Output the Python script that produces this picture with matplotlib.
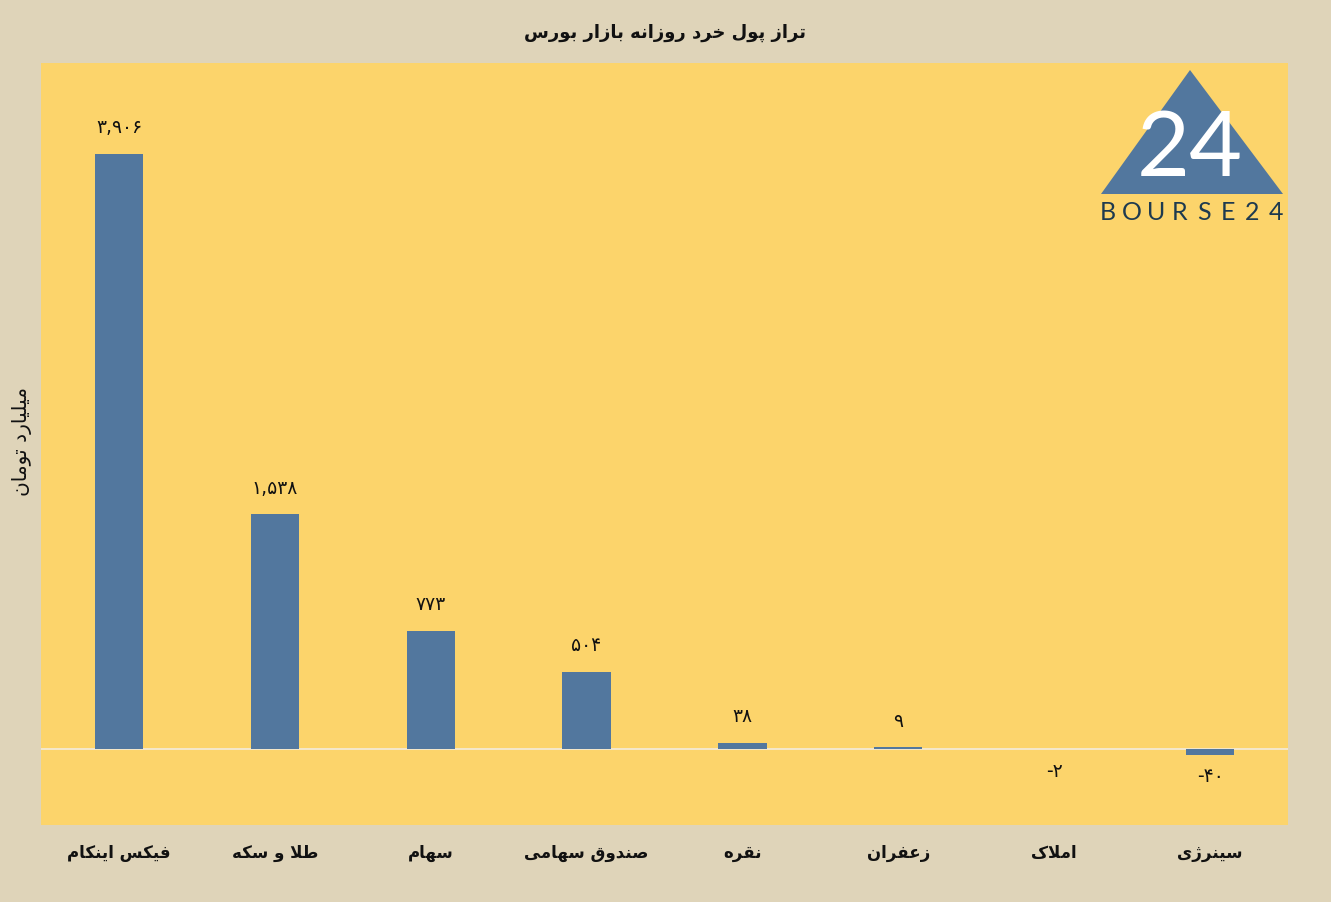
import unicodedata
import matplotlib
matplotlib.use("Agg")
import matplotlib.pyplot as plt
from matplotlib.patches import Polygon

# ---------------- data ----------------
title = "تراز پول خرد روزانه بازار بورس"
y_label = "میلیارد تومان"
categories = ["فیکس اینکام", "طلا و سکه", "سهام", "صندوق سهامی",
              "نقره", "زعفران", "املاک", "سینرژی"]
values = [3906, 1538, 773, 504, 38, 9, -2, -40]

# ---------------- simple Persian shaping ----------------
def _form(ch, kind):
    try:
        return unicodedata.lookup(unicodedata.name(ch) + " " + kind + " FORM")
    except (KeyError, ValueError):
        return None

def _can_left(ch):
    return _form(ch, "INITIAL") is not None

def _can_right(ch):
    return _form(ch, "FINAL") is not None

def shape(text):
    chars = list(text)
    tokens = []
    i = 0
    while i < len(chars):
        c = chars[i]
        if c == "\u0644" and i + 1 < len(chars) and chars[i + 1] in "\u0627\u0622":
            tokens.append(("LA", chars[i + 1]))
            i += 2
        else:
            tokens.append(("C", c))
            i += 1
    res = []
    for k, (t, c) in enumerate(tokens):
        prev = tokens[k - 1] if k > 0 else None
        nxt = tokens[k + 1] if k + 1 < len(tokens) else None
        prev_joins = prev is not None and prev[0] == "C" and _can_left(prev[1])
        if t == "LA":
            base = {"\u0627": "ARABIC LIGATURE LAM WITH ALEF",
                    "\u0622": "ARABIC LIGATURE LAM WITH ALEF WITH MADDA ABOVE"}[c]
            res.append(unicodedata.lookup(base + (" FINAL FORM" if prev_joins else " ISOLATED FORM")))
            continue
        if _form(c, "ISOLATED") is None:
            res.append(c)
            continue
        rj = prev_joins and _can_right(c)
        nj = nxt is not None and _can_left(c) and (nxt[0] == "LA" or _can_right(nxt[1]))
        kind = "MEDIAL" if (rj and nj) else "FINAL" if rj else "INITIAL" if nj else "ISOLATED"
        res.append(_form(c, kind) or c)
    return "".join(reversed(res))

def fa_num(v):
    s = f"{v:,}"
    return s.translate(str.maketrans("0123456789", "۰۱۲۳۴۵۶۷۸۹"))

# ---------------- style ----------------
BG = "#DFD4B9"
PLOT_BG = "#FCD46B"
BAR = "#52779E"
FONT = ["DejaVu Sans"]

plt.rcParams["font.family"] = FONT

W, H = 1331, 902
fig = plt.figure(figsize=(W / 100, H / 100), dpi=100, facecolor=BG)
ax = fig.add_axes([41 / W, 1 - 825 / H, (1288 - 41) / W, (825 - 63) / H])
ax.set_facecolor(PLOT_BG)

x = list(range(len(categories)))
ax.bar(x, values, width=0.31, color=BAR, zorder=3)
ax.axhline(0, color="#F3EBDD", lw=1.2, zorder=2)

ax.set_xlim(-0.5, len(categories) - 0.5)
ax.set_ylim(-500, 4500)
ax.set_yticks([])
ax.set_xticks(x)
ax.set_xticklabels([shape(c) for c in categories], fontsize=12, fontweight="bold",
                   color="#111111")
ax.tick_params(axis="x", length=0, pad=14)
for s in ax.spines.values():
    s.set_visible(False)

for xi, v in zip(x, values):
    if v >= 0:
        ax.annotate(fa_num(v), (xi, v), xytext=(0, 12), textcoords="offset points",
                    ha="center", va="bottom", fontsize=13.5, color="#111111")
    else:
        ax.annotate(fa_num(v), (xi, v), xytext=(0, -9), textcoords="offset points",
                    ha="center", va="top", fontsize=13.5, color="#111111")

fig.text(0.5, 1 - 33 / H, shape(title), ha="center", va="center",
         fontsize=13, fontweight="bold", color="#111111")
fig.text(22 / W, 1 - 441 / H, shape(y_label), ha="center", va="center",
         rotation=90, fontsize=14.5, color="#111111")

# ---------------- logo (decoration) ----------------
tri = Polygon([(1101 / W, 1 - 194 / H), (1190 / W, 1 - 70 / H), (1283 / W, 1 - 194 / H)],
              closed=True, transform=fig.transFigure, facecolor=BAR, edgecolor="none",
              zorder=5)
fig.add_artist(tri)
fig.text(1190 / W, 1 - 150 / H, "24", ha="center", va="center", fontsize=66,
         color="white", family=["Lato", "DejaVu Sans"], fontweight="normal", zorder=6)
logo_word = "BOURSE24"
for k, ch in enumerate(logo_word):
    cx = 1108 + k * (1276 - 1108) / (len(logo_word) - 1)
    fig.text(cx / W, 1 - 213 / H, ch, ha="center", va="center", fontsize=18,
             color="#1E3A4F", family=["Lato", "DejaVu Sans"], zorder=6)

fig.savefig("out.png", dpi=100, facecolor=BG)
